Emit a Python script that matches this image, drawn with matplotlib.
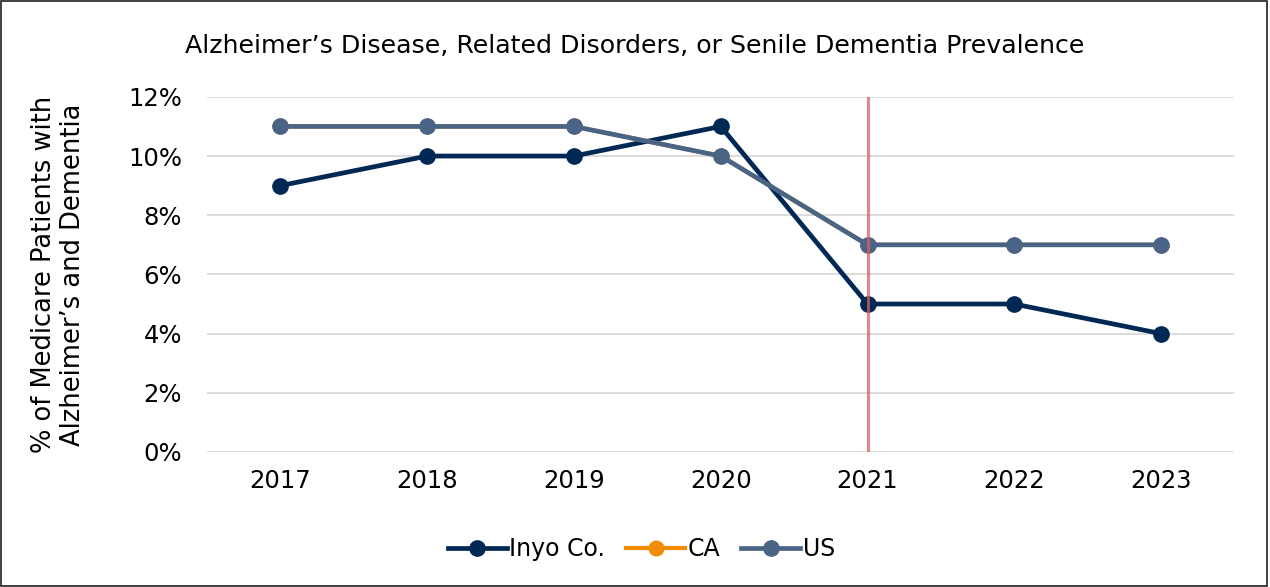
import matplotlib.pyplot as plt
from matplotlib.patches import Rectangle
from matplotlib.ticker import PercentFormatter

years = ["2017", "2018", "2019", "2020", "2021", "2022", "2023"]
inyo = [9, 10, 10, 11, 5, 5, 4]
ca = [11, 11, 11, 10, 7, 7, 7]
us = [11, 11, 11, 10, 7, 7, 7]
marker_year = "2021"

fig = plt.figure(figsize=(12.7, 5.87), dpi=100)
ax = fig.add_axes([0.163, 0.230, 0.809, 0.605])

x = range(len(years))
ax.plot(x, inyo, color="#002855", lw=3.4, marker="o", ms=11, label="Inyo Co.", zorder=3)
ax.plot(x, ca, color="#F28C00", lw=3.0, marker="o", ms=10.5, label="CA", zorder=3)
ax.plot(x, us, color="#4A6485", lw=3.4, marker="o", ms=11, label="US", zorder=4)
ax.axvline(years.index(marker_year), color="#D95F5F", lw=2.2, alpha=0.75, zorder=5)

ax.set_xlim(-0.5, len(years) - 0.5)
ax.set_ylim(0, 12)
ax.set_yticks(range(0, 13, 2))
ax.yaxis.set_major_formatter(PercentFormatter(decimals=0))
ax.set_xticks(list(x))
ax.set_xticklabels(years)
ax.grid(axis="y", color="#D9D9D9", lw=1.3)
ax.set_axisbelow(True)
for s in ax.spines.values():
    s.set_visible(False)
ax.tick_params(length=0, labelsize=17.5, pad=12)
ax.tick_params(axis="y", pad=18)

ax.set_ylabel("% of Medicare Patients with\nAlzheimer’s and Dementia", fontsize=18.5, labelpad=30,
              linespacing=1.15)
fig.text(0.5, 0.922, "Alzheimer’s Disease, Related Disorders, or Senile Dementia Prevalence",
         ha="center", va="center", fontsize=18.2)

fig.legend(loc="center", bbox_to_anchor=(0.505, 0.065), ncol=3, frameon=False, fontsize=17,
           handlelength=2.5, columnspacing=0.9, handletextpad=0.1)

fig.patches.append(Rectangle((0.001, 0.002), 0.997, 0.996, transform=fig.transFigure,
                             fill=False, edgecolor="#202020", lw=1.2))

fig.savefig("out.png", dpi=100)
